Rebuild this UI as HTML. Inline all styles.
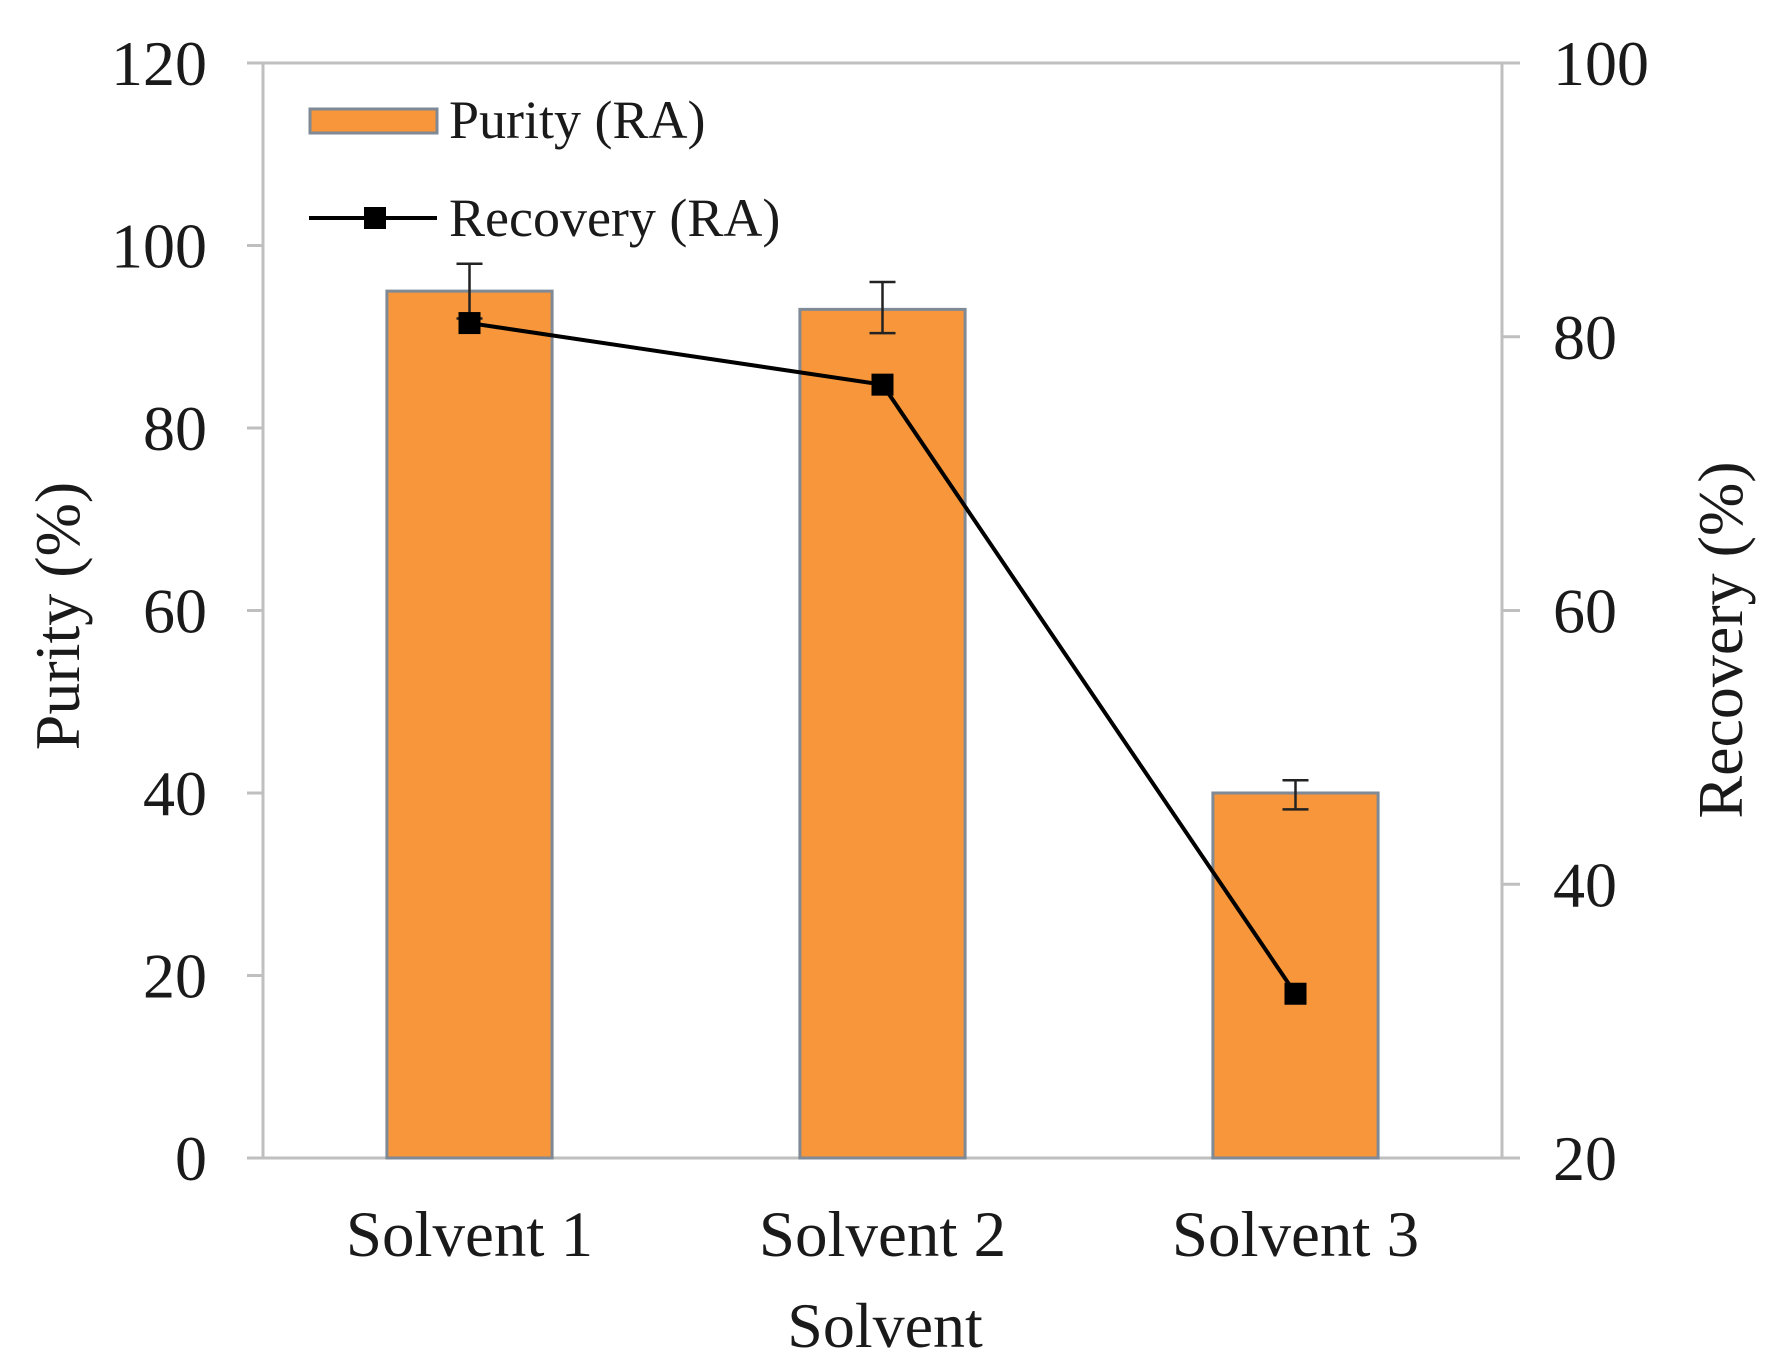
<!DOCTYPE html>
<html><head><meta charset="utf-8"><style>
html,body{margin:0;padding:0;background:#fff;}
svg{display:block;font-family:"Liberation Serif",serif;}
</style></head><body>
<svg id="chart" width="1778" height="1370">
<g id="axes"></g><g id="marks"></g>
</svg>
<script>
const categories = ["Solvent 1","Solvent 2","Solvent 3"];
const purity = [95, 93, 40];
const purityErrUp = [3, 3, 1.4];
const purityErrDown = [3, 2.6, 1.8];
const recovery = [81, 76.5, 32];
const leftTicks = [0,20,40,60,80,100,120];
const rightTicks = [20,40,60,80,100];

const NS="http://www.w3.org/2000/svg";
const L=263,R=1502,T=63,B=1158;
const yL=v=>B-(v/120)*(B-T);
const yR=v=>B-((v-20)/80)*(B-T);
const band=(R-L)/categories.length;
const xC=i=>L+band*(i+0.5);
const bw=band*0.4;
const axes=document.getElementById('axes'), marks=document.getElementById('marks');
function mk(tag,attrs,parent,text){const e=document.createElementNS(NS,tag);for(const k in attrs)e.setAttribute(k,attrs[k]);if(text!==undefined)e.textContent=text;parent.appendChild(e);return e;}

let f=mk('rect',{x:L,y:T,width:R-L,height:B-T,fill:'none',stroke:'#bfbfbf','stroke-width':3},axes);


leftTicks.forEach(v=>{
  let t=mk('line',{x1:L-16,x2:L,y1:yL(v),y2:yL(v),stroke:'#bfbfbf','stroke-width':3},axes);
  
  
  let tx=mk('text',{x:207,y:yL(v)+22,'text-anchor':'end','font-size':64,fill:'#1a1a1a'},axes,String(v));
  
  
});
rightTicks.forEach(v=>{
  let t=mk('line',{x1:R,x2:R+18,y1:yR(v),y2:yR(v),stroke:'#bfbfbf','stroke-width':3},axes);
  
  
  let tx=mk('text',{x:1553,y:yR(v)+22,'text-anchor':'start','font-size':64,fill:'#1a1a1a'},axes,String(v));
  
  
});
categories.forEach((c,i)=>{
  let tx=mk('text',{x:xC(i),y:1256,'text-anchor':'middle','font-size':65,fill:'#1a1a1a'},axes,c);
  
  
});
let xt=mk('text',{x:885,y:1347,'text-anchor':'middle','font-size':64,fill:'#1a1a1a'},axes,'Solvent');


let yt=mk('text',{x:0,y:0,'text-anchor':'middle','font-size':64,fill:'#1a1a1a',transform:'translate(79,616) rotate(-90)'},axes,'Purity (%)');


let yt2=mk('text',{x:0,y:0,'text-anchor':'middle','font-size':64,fill:'#1a1a1a',transform:'translate(1742,640) rotate(-90)'},axes,'Recovery (%)');



purity.forEach((v,i)=>{
  let b=mk('rect',{x:xC(i)-bw/2,y:yL(v),width:bw,height:B-yL(v),fill:'#F7963A',stroke:'#7f8a96','stroke-width':3},marks);
  
  
  const top=yL(v+purityErrUp[i]), bot=yL(v-purityErrDown[i]);
  let e=mk('path',{d:`M${xC(i)} ${top}V${bot}M${xC(i)-13} ${top}H${xC(i)+13}M${xC(i)-13} ${bot}H${xC(i)+13}`,stroke:'#222','stroke-width':2.5,fill:'none'},marks);
  
  
});
let pts=recovery.map((v,i)=>xC(i)+','+yR(v)).join(' ');
let ln=mk('polyline',{points:pts,fill:'none',stroke:'#000','stroke-width':4},marks);


recovery.forEach((v,i)=>{
  let m=mk('rect',{x:xC(i)-11,y:yR(v)-11,width:22,height:22,fill:'#000'},marks);
  
  
});
let l1=mk('rect',{x:310,y:109,width:127,height:24,fill:'#F7963A',stroke:'#7f8a96','stroke-width':3},marks);


let lt1=mk('text',{x:449,y:138,'font-size':54,fill:'#1a1a1a'},marks,'Purity (RA)');


let l2=mk('line',{x1:309,x2:437,y1:218,y2:218,stroke:'#000','stroke-width':4},marks);


let l2m=mk('rect',{x:364,y:207,width:22,height:22,fill:'#000'},marks);


let lt2=mk('text',{x:449,y:236,'font-size':54,fill:'#1a1a1a'},marks,'Recovery (RA)');


</script>
</body></html>
